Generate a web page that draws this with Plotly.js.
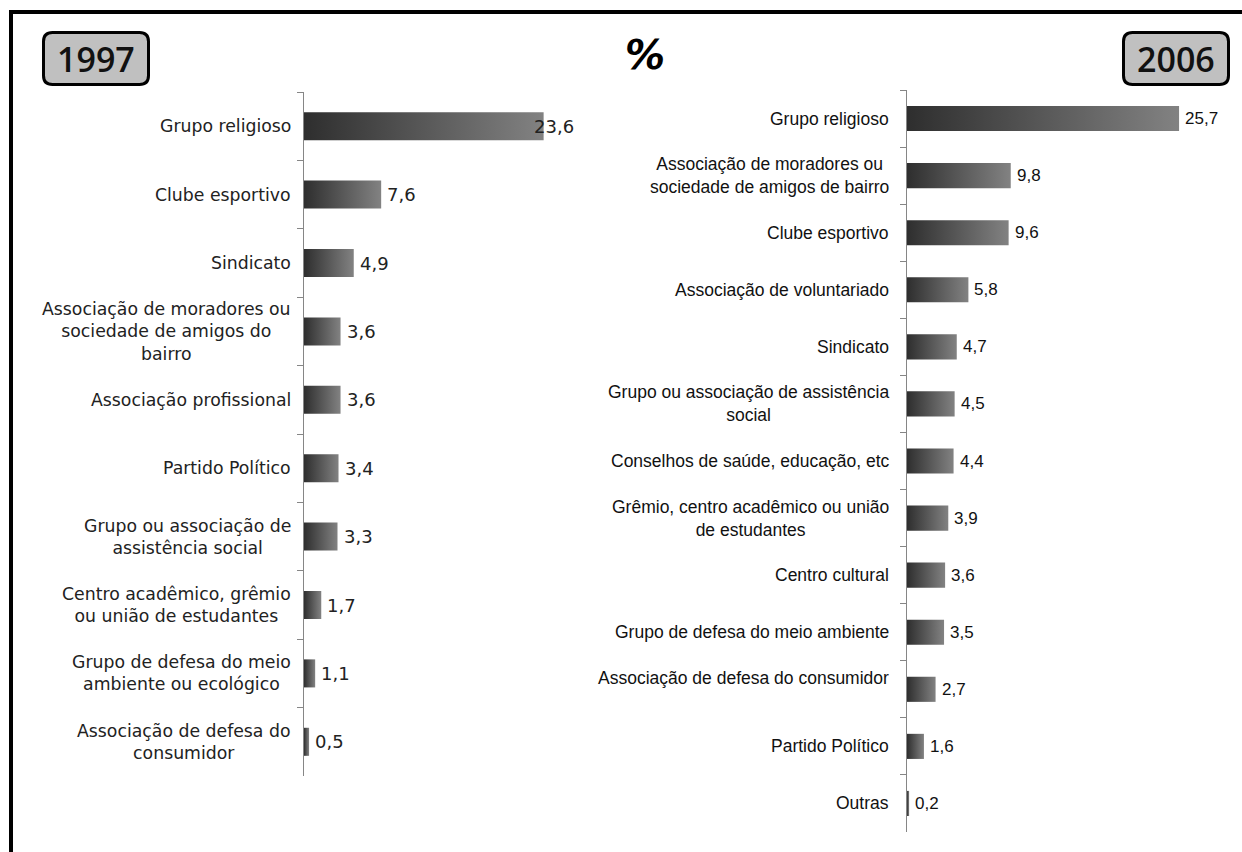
<!DOCTYPE html>
<html>
<head>
<meta charset="utf-8">
<script src="https://cdn.plot.ly/plotly-3.0.1.min.js"></script>
<style>html,body{margin:0;padding:0;background:#fff;}#chart{width:1242px;height:852px;}</style>
</head>
<body>
<div id="chart"></div>
<script>
// ---- data ----
const yearLeft = '1997';
const yearRight = '2006';
const unitLabel = '%';

const categories1997 = [
  'Grupo religioso',
  'Clube esportivo',
  'Sindicato',
  'Associação de moradores ou<br>sociedade de amigos do<br>bairro',
  'Associação profissional',
  'Partido Político',
  'Grupo ou associação de<br>assistência social',
  'Centro acadêmico, grêmio<br>ou união de estudantes',
  'Grupo de defesa do meio<br>ambiente ou ecológico',
  'Associação de defesa do<br>consumidor'
];
const values1997 = [23.6, 7.6, 4.9, 3.6, 3.6, 3.4, 3.3, 1.7, 1.1, 0.5];

const categories2006 = [
  'Grupo religioso',
  'Associação de moradores ou<br>sociedade de amigos de bairro',
  'Clube esportivo',
  'Associação de voluntariado',
  'Sindicato',
  'Grupo ou associação de assistência<br>social',
  'Conselhos de saúde, educação, etc',
  'Grêmio, centro acadêmico ou união<br>de estudantes',
  'Centro cultural',
  'Grupo de defesa do meio ambiente',
  'Associação de defesa do consumidor<br> ',
  'Partido Político',
  'Outras'
];
const values2006 = [25.7, 9.8, 9.6, 5.8, 4.7, 4.5, 4.4, 3.9, 3.6, 3.5, 2.7, 1.6, 0.2];

// ---- layout helpers ----
const W = 1242, H = 852;
const px = x => x / W;
const py = y => 1 - y / H;
const fmt = v => v.toFixed(1).replace('.', ',');

function roundRect(x0, y0, x1, y1, r) {
  const P = (x, y) => px(x) + ',' + py(y);
  return 'M' + P(x0 + r, y0) + ' L' + P(x1 - r, y0) + ' Q' + P(x1, y0) + ' ' + P(x1, y0 + r) +
         ' L' + P(x1, y1 - r) + ' Q' + P(x1, y1) + ' ' + P(x1 - r, y1) +
         ' L' + P(x0 + r, y1) + ' Q' + P(x0, y1) + ' ' + P(x0, y1 - r) +
         ' L' + P(x0, y0 + r) + ' Q' + P(x0, y0) + ' ' + P(x0 + r, y0) + ' Z';
}

const leftFont = 'DejaVu Sans, Verdana, sans-serif';
const rightFont = 'Liberation Sans, Arial, sans-serif';
const axisGray = '#868686';

const traces = [
  {
    type: 'bar', orientation: 'h',
    x: values1997, y: categories1997,
    xaxis: 'x', yaxis: 'y',
    width: 0.41,
    marker: { color: '#585858', line: { width: 0 } },
    hoverinfo: 'skip'
  },
  {
    type: 'bar', orientation: 'h',
    x: values2006, y: categories2006,
    xaxis: 'x2', yaxis: 'y2',
    width: 0.44,
    marker: { color: '#585858', line: { width: 0 } },
    hoverinfo: 'skip'
  }
];

const annotations = [];
const max1997 = Math.max(...values1997);
categories1997.forEach((c, i) => {
  annotations.push({
    xref: 'x domain', yref: 'y', x: 0, y: c, text: c,
    xanchor: 'right', yanchor: 'middle', align: 'center', xshift: -11,
    showarrow: false, font: { family: leftFont, size: 17.3, color: '#222' }
  });
  annotations.push({
    xref: 'x', yref: 'y', x: values1997[i], y: c, text: fmt(values1997[i]),
    xanchor: 'left', yanchor: 'middle', xshift: values1997[i] === max1997 ? -12 : 4,
    showarrow: false, font: { family: leftFont, size: 18, color: '#222' }
  });
});
categories2006.forEach((c, i) => {
  annotations.push({
    xref: 'x2 domain', yref: 'y2', x: 0, y: c, text: c,
    xanchor: 'right', yanchor: 'middle', align: 'center', xshift: -16,
    showarrow: false, font: { family: rightFont, size: 17.5, color: '#111' }
  });
  annotations.push({
    xref: 'x2', yref: 'y2', x: values2006[i], y: c, text: fmt(values2006[i]),
    xanchor: 'left', yanchor: 'middle', xshift: 4,
    showarrow: false, font: { family: rightFont, size: 17, color: '#111' }
  });
});

annotations.push(
  { xref: 'paper', yref: 'paper', x: px(96), y: py(59), text: yearLeft, showarrow: false,
    xanchor: 'center', yanchor: 'middle', font: { family: 'Open Sans, sans-serif', size: 34, weight: 600, color: '#111' } },
  { xref: 'paper', yref: 'paper', x: px(1175.5), y: py(59), text: yearRight, showarrow: false,
    xanchor: 'center', yanchor: 'middle', font: { family: 'Open Sans, sans-serif', size: 34, weight: 600, color: '#111' } },
  { xref: 'paper', yref: 'paper', x: px(645), y: py(55), text: unitLabel, showarrow: false,
    xanchor: 'center', yanchor: 'middle', font: { family: 'DejaVu Sans, sans-serif', size: 40, weight: 700, style: 'italic', color: '#000' } }
);

const shapes = [
  { type: 'path', xref: 'paper', yref: 'paper', path: 'M' + px(11) + ',' + py(852) + ' L' + px(11) + ',' + py(12) + ' L' + px(1242) + ',' + py(12),
    line: { color: '#000', width: 4 } },
  { type: 'path', xref: 'paper', yref: 'paper', path: roundRect(43.5, 32.5, 148.5, 84.5, 9),
    fillcolor: '#c0c0c0', line: { color: '#000', width: 3 } },
  { type: 'path', xref: 'paper', yref: 'paper', path: roundRect(1123.5, 32.5, 1228.5, 84.5, 9),
    fillcolor: '#c0c0c0', line: { color: '#000', width: 3 } }
];

const yAxisCommon = {
  type: 'category', autorange: 'reversed',
  showline: true, linecolor: axisGray, linewidth: 1,
  ticks: 'outside', tickson: 'boundaries', ticklen: 6, tickcolor: axisGray, tickwidth: 1,
  showticklabels: false, showgrid: false, zeroline: false, fixedrange: true
};
const xAxisCommon = {
  showline: false, showgrid: false, zeroline: false, showticklabels: false, ticks: '', fixedrange: true
};

const layout = {
  width: W, height: H,
  margin: { l: 0, r: 0, t: 0, b: 0 },
  paper_bgcolor: '#fff', plot_bgcolor: 'rgba(0,0,0,0)',
  showlegend: false,
  xaxis: Object.assign({}, xAxisCommon, { domain: [px(304), px(568)], range: [0, 26], anchor: 'y' }),
  yaxis: Object.assign({}, yAxisCommon, { domain: [py(776), py(92)], anchor: 'x' }),
  xaxis2: Object.assign({}, xAxisCommon, { domain: [px(907), px(1214)], range: [0, 29], anchor: 'y2' }),
  yaxis2: Object.assign({}, yAxisCommon, { domain: [py(832), py(90)], anchor: 'x2' }),
  annotations: annotations,
  shapes: shapes
};

Plotly.newPlot('chart', traces, layout, { staticPlot: true, displayModeBar: false }).then(gd => {
  const svg = gd.querySelector('.main-svg');
  let defs = svg.querySelector('defs');
  const NS = 'http://www.w3.org/2000/svg';
  if (!defs) { defs = document.createElementNS(NS, 'defs'); svg.insertBefore(defs, svg.firstChild); }
  const grad = document.createElementNS(NS, 'linearGradient');
  grad.setAttribute('id', 'barGrad');
  grad.setAttribute('x1', '0'); grad.setAttribute('y1', '0');
  grad.setAttribute('x2', '1'); grad.setAttribute('y2', '0');
  [['0%', '#2e2e2e'], ['100%', '#828282']].forEach(([o, c]) => {
    const s = document.createElementNS(NS, 'stop');
    s.setAttribute('offset', o); s.setAttribute('stop-color', c);
    grad.appendChild(s);
  });
  defs.appendChild(grad);
  gd.querySelectorAll('.barlayer .point path').forEach(p => { p.style.fill = 'url(#barGrad)'; });
});
</script>
</body>
</html>
